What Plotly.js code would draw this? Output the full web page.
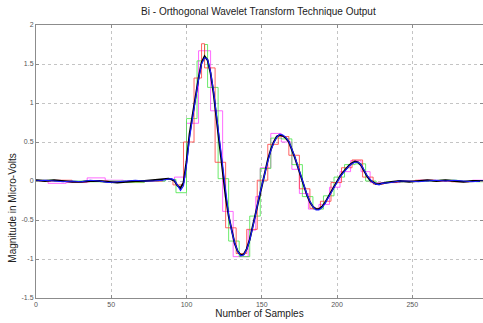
<!DOCTYPE html>
<html>
<head>
<meta charset="utf-8">
<script src="https://cdn.plot.ly/plotly-3.0.1.min.js"></script>
<style>html,body{margin:0;padding:0;background:#fff;}#chart{width:483px;height:323px;}</style>
</head>
<body>
<div id="chart"></div>
<script>
// Smooth reconstructed outputs
const xSmooth = [0,6,12,18,24,30,36,42,48,54,60,66,72,78,84,88,90,92,94,96,98,100,102,104,106,108,110,112,114,116,118,120,122,124,126,128,130,132,134,136,138,140,142,144,146,148,150,152,154,156,158,160,162,164,166,168,170,172,174,176,178,180,182,184,186,188,190,192,194,196,198,200,202,204,206,208,210,212,214,216,218,220,222,224,226,228,230,236,242,248,254,260,266,272,278,284,290,297];
const yBlack = [0.01,0.0,0.01,0.0,-0.01,-0.01,0.0,0.0,-0.01,-0.02,-0.01,0.0,0.0,0.01,0.02,
  0.03,0.02,0.0,-0.06,-0.09,-0.02,0.25,0.6,0.85,1.08,1.32,1.52,1.6,1.55,1.38,1.12,0.8,0.48,0.1,-0.2,-0.45,-0.65,-0.8,-0.9,-0.95,-0.94,-0.87,-0.75,-0.58,-0.4,-0.2,-0.03,0.12,0.27,0.4,0.5,0.57,0.59,0.58,0.55,0.5,0.41,0.3,0.18,0.05,-0.07,-0.18,-0.27,-0.33,-0.36,-0.36,-0.33,-0.28,-0.21,-0.14,-0.07,0.0,0.06,0.11,0.16,0.2,0.23,0.25,0.24,0.2,0.13,0.06,0.01,-0.02,-0.04,-0.04,-0.03,
  -0.01,0.0,-0.01,0.0,0.01,0.0,0.01,0.0,-0.01,0.0,0.0];
const yBlue = [0.0,0.01,0.0,-0.01,0.0,-0.01,0.01,0.0,-0.02,-0.01,0.0,0.01,0.0,0.0,0.01,
  0.02,0.03,0.01,-0.05,-0.12,-0.06,0.2,0.55,0.82,1.05,1.3,1.5,1.58,1.56,1.4,1.15,0.83,0.5,0.13,-0.18,-0.43,-0.64,-0.79,-0.9,-0.96,-0.95,-0.88,-0.76,-0.6,-0.42,-0.22,-0.05,0.1,0.25,0.39,0.49,0.56,0.6,0.59,0.56,0.51,0.42,0.31,0.19,0.06,-0.06,-0.17,-0.26,-0.33,-0.37,-0.37,-0.34,-0.29,-0.22,-0.15,-0.08,-0.01,0.05,0.1,0.15,0.19,0.22,0.24,0.24,0.21,0.14,0.07,0.02,-0.02,-0.04,-0.05,-0.03,
  -0.02,0.0,0.0,-0.01,0.0,0.01,0.0,0.01,0.0,-0.01,0.0];

// Step (sample-and-hold) outputs
const xRed = [0,12,24,36,48,60,72,84,91,98,105,110,112,119,126,133,140,147,154,161,168,175,182,189,196,203,210,217,224,231,240,252,264,276,288,297];
const yRed = [0.0,0.01,-0.01,0.0,-0.01,-0.01,0.0,0.02,-0.05,0.5,1.32,1.76,1.45,0.24,-0.6,-0.93,-0.62,0.01,0.47,0.57,0.33,-0.1,-0.35,-0.26,-0.02,0.17,0.27,0.05,-0.04,-0.02,0.0,0.01,0.0,-0.01,0.0,0.0];
const xGreen = [0,12,24,36,48,60,72,86,93,100,107,112,114,121,128,135,142,149,156,163,170,177,184,191,198,205,212,219,226,233,244,256,268,280,292,297];
const yGreen = [0.01,0.0,0.0,-0.01,0.0,-0.02,0.0,0.02,-0.15,0.8,1.54,1.75,1.2,0.03,-0.77,-0.97,-0.45,0.16,0.55,0.54,0.21,-0.2,-0.36,-0.19,0.05,0.21,0.22,0.0,-0.03,-0.01,0.0,0.0,0.01,0.0,-0.01,0.0];
const xMagenta = [0,8,20,34,46,58,70,84,92,100,108,116,124,131,141,146,149,156,163,170,175,181,188,195,202,209,216,222,230,242,254,266,278,290,297];
const yMagenta = [0.01,-0.03,-0.02,0.04,0.01,0.0,0.0,0.02,0.05,0.74,1.67,0.9,-0.39,-0.97,-0.63,-0.2,0.17,0.61,0.5,0.15,-0.16,-0.36,-0.3,-0.08,0.12,0.26,0.12,-0.02,-0.02,0.0,0.01,0.0,0.0,0.01,0.0];

const xTicks = [0,50,100,150,200,250];
const xTickText = ['0','50','100','150','200','250'];
const yTicks = [-1.5,-1,-0.5,0,0.5,1,1.5,2];
const yTickText = ['-1.5','-1','-0.5','0','0.5','1','1.5','2'];

const traces = [
  {x:xMagenta, y:yMagenta, mode:'lines', line:{color:'rgba(255,70,255,0.8)', width:1, shape:'hv'}},
  {x:xGreen, y:yGreen, mode:'lines', line:{color:'rgba(70,230,70,0.8)', width:1, shape:'hv'}},
  {x:xRed, y:yRed, mode:'lines', line:{color:'rgba(255,60,60,0.8)', width:1, shape:'hv'}},
  {x:xSmooth, y:yBlack, mode:'lines', line:{color:'#000000', width:1.8}},
  {x:xSmooth, y:yBlue, mode:'lines', line:{color:'#1a1aff', width:1.1}}
];

const fontFam = 'Liberation Sans, Arial, sans-serif';
const axisCommon = {
  showline:true, linecolor:'#8c8c8c', linewidth:1, mirror:'ticks',
  ticks:'inside', ticklen:3, tickcolor:'#8c8c8c',
  showgrid:true, gridcolor:'#c4c4c4', griddash:'dot', gridwidth:1,
  zeroline:false, tickfont:{family:fontFam, size:7, color:'#555'},
  tickmode:'array'
};

const layout = {
  width:483, height:323,
  margin:{l:36, r:0, t:25, b:25},
  paper_bgcolor:'#fff', plot_bgcolor:'#fff',
  showlegend:false,
  title:{text:'Bi - Orthogonal Wavelet Transform Technique Output', x:0.535, xanchor:'center', y:0.965, yanchor:'middle',
    font:{family:fontFam, size:10, color:'#222'}},
  xaxis:Object.assign({}, axisCommon, {range:[0,297], tickvals:xTicks, ticktext:xTickText,
    title:{text:'Number of Samples', standoff:2, font:{family:fontFam, size:10, color:'#222'}}}),
  yaxis:Object.assign({}, axisCommon, {range:[-1.5,2], tickvals:yTicks, ticktext:yTickText}),
  annotations:[{text:'Magnitude in Micro-Volts', textangle:-90, xref:'paper', yref:'paper',
    x:-0.052, y:0.33, xanchor:'center', yanchor:'middle', showarrow:false,
    font:{family:fontFam, size:10, color:'#222'}}]
};

Plotly.newPlot('chart', traces, layout, {displayModeBar:false, staticPlot:true});
</script>
</body>
</html>
